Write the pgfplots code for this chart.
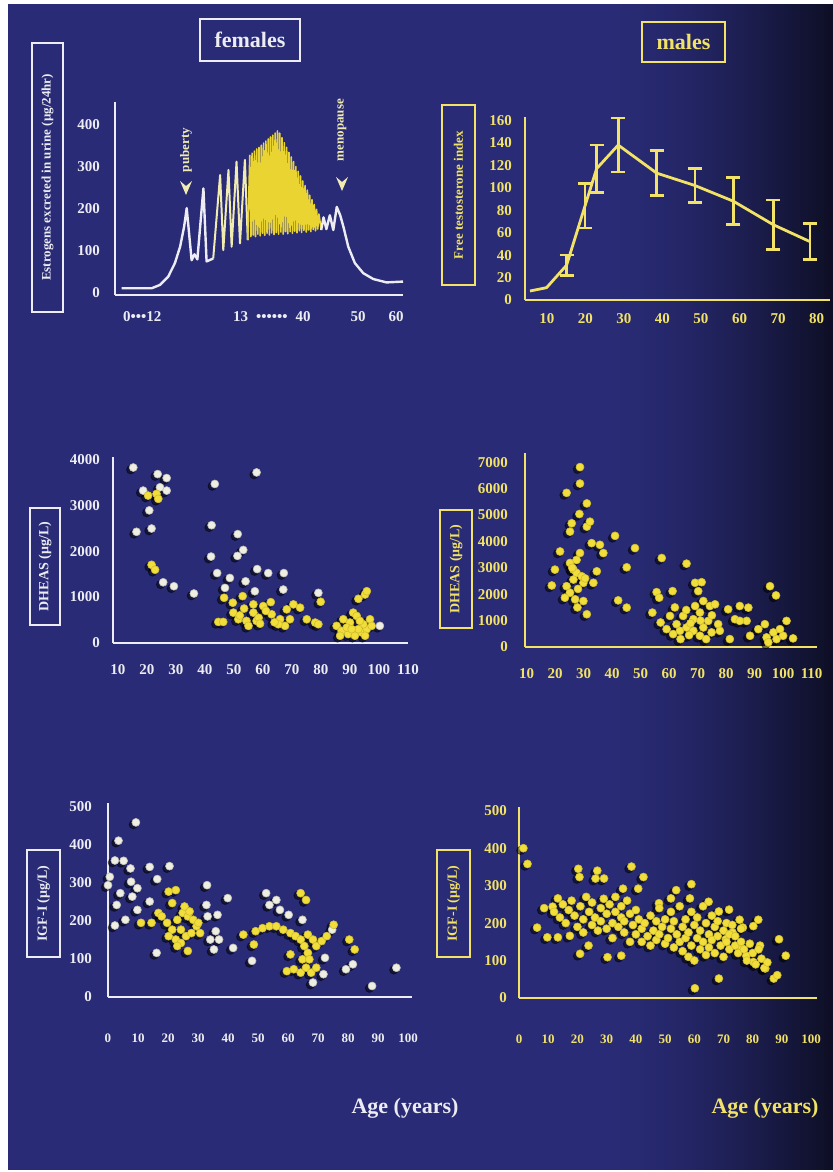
\documentclass[border=0pt]{standalone}
\usepackage{fontspec}
\setmainfont{Liberation Serif}
\usepackage{pgfplots}
\pgfplotsset{compat=1.18}
\usepackage{pgfplotstable}
\definecolor{bg}{HTML}{292B76}
\definecolor{bgdark}{HTML}{0E0F26}
\definecolor{fw}{HTML}{ECECF2}
\definecolor{my}{HTML}{F2E266}
\definecolor{dy}{HTML}{F2DE3A}
\definecolor{spk}{HTML}{E9D432}
\definecolor{spk2}{HTML}{F0EBB0}
\definecolor{dw}{HTML}{EEEEE2}

\pgfplotsset{
  panel/.style={scale only axis, axis x line=bottom, axis y line=left,
    axis line style={line width=1.2pt,-}, major tick length=0pt, clip=false,
    anchor=south west, ticklabel style={font=\bfseries\fontsize{7.5}{8}\selectfont}},
  fpanel/.style={panel, axis line style={fw}, ticklabel style={text=fw}},
  mpanel/.style={panel, axis line style={my}, ticklabel style={text=my}},
  shadow/.style={only marks, mark=*, mark size=2.1pt, mark options={fill=black, draw=none, xshift=-1.3pt, yshift=-1.1pt, opacity=0.5}},
  wdots/.style={only marks, mark=*, mark size=2pt, mark options={fill=dw, draw=dw!80!black, line width=0.3pt}},
  ydots/.style={only marks, mark=*, mark size=2pt, mark options={fill=dy, draw=dy!85!black, line width=0.3pt}},
}

\pgfplotstableread{
x y
5.6 8
9.9 11
15.1 31
19.9 84
22.9 117
28.5 138
38.5 113
48.4 102
58.4 88
68.8 67
78.3 52
}\tLine
\pgfplotstableread{
x y e
15.1 31 9
19.9 84 20
22.9 117 21
28.5 138 24
38.5 113 20
48.4 102 15
58.4 88 21
68.8 67 22
78.3 52 16
}\tErr

\pgfplotstableread{
x y
15.3 3821
23.7 3678
26.8 3592
18.7 3319
24.5 3391
26.8 3319
20.8 2888
16.4 2421
21.6 2493
25.6 1322
29.3 1236
36.2 1078
43.4 3463
42.3 2565
42.1 1882
44.2 1523
57.8 3714
51.3 2371
53.2 2026
51.2 1897
48.6 1416
54.0 1343
46.9 1200
58.0 1610
61.8 1523
67.2 1523
67.0 1164
57.2 1127
79.1 1092
100.3 373
}\dFw
\pgfplotstableread{
x y
20.4 3211
23.3 3247
23.9 3139
21.6 1703
22.8 1595
44.6 459
46.3 459
46.6 985
49.6 877
53.0 1020
62.7 890
60.1 804
56.7 841
49.8 661
51.5 517
54.3 481
56.7 661
55.0 373
57.8 481
63.0 625
65.9 517
68.2 733
70.5 841
72.8 769
67.6 373
65.3 409
69.3 517
79.9 898
75.1 517
78.0 445
79.1 409
92.9 963
95.2 1056
95.8 1128
85.4 373
87.7 517
90.0 445
91.1 661
92.3 589
87.1 266
89.4 194
91.7 158
94.0 230
95.8 302
96.9 517
97.5 373
94.6 409
88.9 337
92.9 302
86.6 158
95.2 158
93.4 481
90.6 302
52.0 600
58.5 550
61.0 700
64.0 450
59.0 420
53.5 750
}\dFy

\pgfplotstableread{
x y
28.7 6816
28.7 6192
24.0 5840
31.1 5440
28.5 5038
25.8 4687
25.2 4372
31.1 4560
32.2 4748
41.0 4211
32.8 3936
35.7 3872
36.9 3560
48.0 3748
21.7 3620
28.7 3560
19.9 2932
45.1 3019
57.4 3372
66.1 3158
18.8 2331
34.6 2868
33.4 2432
29.9 2432
26.4 2556
25.2 3184
26.4 2932
27.5 2808
29.3 2680
24.0 2304
25.2 2056
27.0 1805
29.9 1741
23.4 1868
31.1 1241
69.1 2432
71.4 2455
55.6 2079
56.5 1868
61.2 2117
42.1 1767
45.1 1492
54.1 1304
57.0 929
60.3 1177
62.6 865
61.4 489
63.8 613
66.1 741
68.5 1053
70.8 1304
69.1 1553
72.0 1741
74.3 1553
76.1 1617
73.7 989
77.2 865
72.0 741
68.5 613
70.8 425
74.9 553
77.8 613
81.3 301
80.7 1429
83.1 1053
84.8 1553
87.8 1492
87.2 989
84.8 989
88.4 425
91.3 677
93.6 865
95.4 2304
97.5 1955
94.2 365
96.6 553
98.9 677
101.2 989
103.5 327
97.7 301
94.8 177
100.0 425
59.1 677
64.9 1177
70.2 2117
27.5 3300
26.0 3000
28.0 2200
30.5 2600
27.8 1500
66.0 1400
67.5 900
71.0 1000
75.0 1200
64.0 300
67.0 450
73.0 300
62.0 1500
}\dM

\pgfplotstableread{
x y
9.3 459
3.5 411
2.3 359
5.2 358
7.5 338
13.9 342
20.5 344
0.6 316
0.0 294
4.1 273
7.7 303
9.8 286
16.4 310
8.1 264
2.9 242
9.8 229
2.3 188
5.8 203
13.9 251
16.2 116
33.0 294
32.8 242
36.5 216
33.2 212
35.9 173
34.1 151
37.0 151
35.3 125
39.9 260
41.7 129
48.0 95
52.7 273
53.8 242
56.1 255
57.3 229
60.2 216
64.8 203
68.3 38
72.3 103
88.0 29
96.1 77
79.3 73
81.6 86
71.8 60
74.7 177
}\iFw
\pgfplotstableread{
x y
11.0 195
14.5 195
16.8 221
20.2 277
22.6 281
21.4 247
17.9 212
19.7 195
21.4 177
23.1 203
24.9 221
26.6 212
28.4 203
29.5 186
30.7 168
25.5 238
27.2 225
20.2 160
22.6 151
24.3 142
26.0 160
23.1 134
26.6 121
24.3 177
27.8 168
30.1 195
45.1 164
49.2 173
48.6 138
51.5 181
53.8 186
56.1 186
58.4 177
60.8 168
62.5 160
64.2 151
66.6 164
68.3 151
69.4 134
71.2 147
72.9 160
75.2 190
65.4 134
66.6 116
60.8 112
64.8 99
59.6 68
61.9 73
64.2 64
66.0 77
67.7 64
69.4 77
67.1 99
80.4 151
82.2 125
64.2 273
66.0 255
}\iFy

\pgfplotstableread{
x y
1.5 400
2.9 358
20.3 345
20.7 323
26.8 340
29.1 319
26.2 319
38.5 351
42.6 323
40.8 292
35.6 292
53.8 288
59.0 304
13.3 266
8.6 240
11.5 244
6.2 188
9.7 162
13.3 162
17.4 166
20.9 118
23.8 140
30.3 109
35.0 113
47.9 253
52.0 266
58.5 266
64.9 257
68.4 231
71.9 236
81.9 209
89.0 157
91.3 113
87.2 52
88.4 61
84.3 79
68.4 52
60.2 26
80.2 96
82.5 140
77.8 113
75.5 140
73.1 175
70.8 157
76.6 188
80.2 192
75.5 209
12 230
14 215
15 250
16 200
17 235
18 260
19 220
20 190
21 245
22 210
22 175
23 270
24 230
25 195
25 255
26 215
27 180
28 240
28 205
29 265
30 225
30 185
31 250
32 200
32 160
33 230
33 270
34 190
35 215
35 245
36 175
36 205
37 260
38 225
38 150
39 195
40 170
40 235
41 210
42 150
42 185
43 200
44 165
45 140
45 220
46 180
47 155
47 205
48 170
48 240
49 190
50 145
50 210
51 160
52 230
52 185
53 135
53 205
54 170
55 150
55 245
56 190
56 125
57 210
57 160
58 175
58 110
59 140
59 230
60 195
60 100
61 160
61 215
62 130
62 180
63 150
63 245
64 115
64 200
65 170
65 135
66 220
66 155
67 190
67 120
68 165
68 205
69 140
70 180
70 110
71 200
71 150
72 130
72 170
73 195
74 140
74 165
75 120
76 150
76 185
77 130
78 100
79 145
80 120
81 90
82 130
83 105
84 80
85 95
}\iM

\begin{document}
\begin{tikzpicture}
\useasboundingbox (0,0) rectangle (416pt,-586pt);
\fill[white] (0,0) rectangle (416pt,-586pt);
\begin{scope}[x=0.5pt,y=-0.5pt]
\fill[bg] (8,4) rectangle (832,1170);
\foreach \i in {0,...,57} {
  \pgfmathsetmacro\p{100*(1-(\i/57)^1.6)}
  \fill[bg!\p!bgdark] ({600+4*\i},4) rectangle ({604.6+4*\i},1170);
}
% titles
\draw[fw, line width=1.2pt] (200,19) rectangle (300,61);
\node[fw, font=\bfseries\fontsize{11}{13}\selectfont] at (250,40) {females};
\draw[my, line width=1.2pt] (642,22) rectangle (725,62);
\node[my, font=\bfseries\fontsize{11}{13}\selectfont] at (683.5,42) {males};
% y label boxes
\draw[fw, line width=1.2pt] (32,43) rectangle (63,312);
\node[fw, rotate=90, font=\bfseries\fontsize{6.5}{7}\selectfont] at (47.5,177.5) {Estrogens excreted in urine (μg/24hr)};
\draw[my, line width=1.2pt] (442,105) rectangle (475,285);
\node[my, rotate=90, font=\bfseries\fontsize{6.5}{7}\selectfont] at (458.5,195) {Free testosterone index};
\draw[fw, line width=1.2pt] (30,508) rectangle (60,625);
\node[fw, rotate=90, font=\bfseries\fontsize{7}{8}\selectfont] at (45,566.5) {DHEAS (μg/L)};
\draw[my, line width=1.2pt] (440,510) rectangle (472,628);
\node[my, rotate=90, font=\bfseries\fontsize{7}{8}\selectfont] at (456,569) {DHEAS (μg/L)};
\draw[fw, line width=1.2pt] (27,850) rectangle (60,957);
\node[fw, rotate=90, font=\bfseries\fontsize{7}{8}\selectfont] at (43.5,903.5) {IGF-I (μg/L)};
\draw[my, line width=1.2pt] (437,850) rectangle (470,957);
\node[my, rotate=90, font=\bfseries\fontsize{7}{8}\selectfont] at (453.5,903.5) {IGF-I (μg/L)};
% age labels
\node[fw, font=\bfseries\fontsize{11}{13}\selectfont] at (405,1108) {Age (years)};
\node[my, font=\bfseries\fontsize{11}{13}\selectfont] at (765,1108) {Age (years)};
% puberty / menopause
\node[spk2, rotate=90, font=\bfseries\fontsize{6.5}{7}\selectfont] at (186,150) {puberty};
\fill[spk2] (180,181) -- (186,195) -- (192,181) -- (186,186) -- cycle;
\node[spk2, rotate=90, font=\bfseries\fontsize{6.5}{7}\selectfont] at (342,130) {menopause};
\fill[spk2] (336,177) -- (342,191) -- (348,177) -- (342,182) -- cycle;
\end{scope}

% ---------- A: estrogens (females)
\begin{axis}[fpanel, at={(57.5pt,-147.5pt)}, width=144pt, height=96.5pt,
  xmin=0, xmax=100, ymin=-5, ymax=455,
  ytick={0,100,200,300,400}, yticklabels={0,100,200,300,400},
  xtick={9.5,54.5,84.4,97.6},
  xticklabels={0•••12, 13\hspace{4pt}••••••\hspace{4pt}40, 50, 60},
  yticklabel style={xshift=-4pt}, xticklabel style={yshift=-4.5pt}]
\addplot[fw, line width=1.2pt, line join=round] coordinates {
(2.3,11) (12.7,11) (15.6,19) (18.5,39) (20.8,71) (22.6,110) (24,158) (24.9,202)
(26.6,78) (27.6,92) (28.6,80) (30.7,249) (31.8,75) (34.1,82)};
\addplot[spk2, line width=1.0pt, line join=round] coordinates {
(34.1,82) (36.5,281) (37.6,102) (39.4,293) (40.5,110) (42.2,313) (43.4,118) (45.1,317) (46.1,126)};
\addplot[spk, line width=0.8pt, line join=round] coordinates {
(46.1,126) (46.8,328) (47.2,134) (47.6,333) (48.0,138) (48.4,338) (48.8,134) (49.2,343) (49.6,140)
(50.0,347) (50.4,136) (50.8,352) (51.2,142) (51.6,357) (52.0,137) (52.4,362) (52.8,142)
(53.2,367) (53.6,138) (54.0,372) (54.4,143) (54.8,376) (55.2,139) (55.6,381) (56.0,144)
(56.4,386) (56.8,140) (57.2,381) (57.6,145) (58.0,370) (58.4,140) (58.8,358) (59.2,146)
(59.6,347) (60.0,141) (60.4,335) (60.8,146) (61.2,324) (61.6,142) (62.0,313) (62.4,147)
(62.8,301) (63.2,143) (63.6,290) (64.0,148) (64.4,279) (64.8,144) (65.2,267) (65.6,149)
(66.0,256) (66.4,145) (66.8,245) (67.2,150) (67.6,233) (68.0,146) (68.4,222) (68.8,151)
(69.2,211) (69.6,148) (70.0,199) (70.4,152) (70.8,188) (71.6,150)};
\addplot[fw, line width=1.2pt, line join=round] coordinates {
(71.6,150) (72.4,180) (73.4,152) (74.6,185) (75.8,150) (77,205) (78.2,185) (79.3,158)
(81,110) (83.3,71) (86.2,47) (89.7,33) (94.3,25) (100,27)};
\end{axis}

% ---------- B: free testosterone (males)
\begin{axis}[mpanel, at={(262.5pt,-150pt)}, width=152.5pt, height=91.5pt,
  xmin=4.3, xmax=83.5, ymin=0, ymax=163,
  ytick={0,20,40,60,80,100,120,140,160}, yticklabels={0,20,40,60,80,100,120,140,160},
  xtick={10,20,30,40,50,60,70,80}, xticklabels={10,20,30,40,50,60,70,80},
  yticklabel style={xshift=-3pt}, xticklabel style={yshift=-3pt}]
\addplot[my, line width=1.4pt, line join=round] table[x=x,y=y] {\tLine};
\addplot[draw=none, forget plot,
  error bars/.cd, y dir=both, y explicit,
  error bar style={draw=my, line width=1.3pt},
  error mark options={rotate=90, mark size=3.5pt, line width=1.3pt, draw=my}]
  table[x=x, y=y, y error=e] {\tErr};
\end{axis}

% ---------- C: DHEAS females
\begin{axis}[fpanel, at={(56.5pt,-321.5pt)}, width=147.5pt, height=93pt,
  xmin=8.3, xmax=110, ymin=0, ymax=4050,
  ytick={0,1000,2000,3000,4000}, yticklabels={0,1000,2000,3000,4000},
  xtick={10,20,30,40,50,60,70,80,90,100,110}, xticklabels={10,20,30,40,50,60,70,80,90,100,110},
  yticklabel style={xshift=-3pt}, xticklabel style={yshift=-7pt}]
\addplot[shadow] table {\dFw};
\addplot[shadow] table {\dFy};
\addplot[wdots] table {\dFw};
\addplot[ydots] table {\dFy};
\end{axis}

% ---------- D: DHEAS males
\begin{axis}[mpanel, at={(262.5pt,-323.5pt)}, width=146pt, height=97pt,
  xmin=9.4, xmax=111.9, ymin=0, ymax=7350,
  ytick={0,1000,2000,3000,4000,5000,6000,7000}, yticklabels={0,1000,2000,3000,4000,5000,6000,7000},
  xtick={10,20,30,40,50,60,70,80,90,100,110}, xticklabels={10,20,30,40,50,60,70,80,90,100,110},
  yticklabel style={xshift=-5pt}, xticklabel style={yshift=-7pt}]
\addplot[shadow] table {\dM};
\addplot[ydots] table {\dM};
\end{axis}

% ---------- E: IGF-I females
\begin{axis}[fpanel, at={(54pt,-498.5pt)}, width=152pt, height=97pt,
  xmin=0, xmax=101.3, ymin=0, ymax=510,
  ytick={0,100,200,300,400,500}, yticklabels={0,100,200,300,400,500},
  xtick={0,10,20,30,40,50,60,70,80,90,100}, xticklabels={0,10,20,30,40,50,60,70,80,90,100},
  yticklabel style={xshift=-4.5pt},
  xticklabel style={yshift=-15pt, font=\bfseries\fontsize{6.5}{7}\selectfont}]
\addplot[shadow] table {\iFw};
\addplot[shadow] table {\iFy};
\addplot[wdots] table {\iFw};
\addplot[ydots] table {\iFy};
\end{axis}

% ---------- F: IGF-I males
\begin{axis}[mpanel, at={(259.5pt,-499pt)}, width=149pt, height=95.5pt,
  xmin=0, xmax=102, ymin=0, ymax=510,
  ytick={0,100,200,300,400,500}, yticklabels={0,100,200,300,400,500},
  xtick={0,10,20,30,40,50,60,70,80,90,100}, xticklabels={0,10,20,30,40,50,60,70,80,90,100},
  yticklabel style={xshift=-2.5pt},
  xticklabel style={yshift=-15pt, font=\bfseries\fontsize{6.5}{7}\selectfont}]
\addplot[shadow] table {\iM};
\addplot[ydots] table {\iM};
\end{axis}
\end{tikzpicture}
\end{document}
